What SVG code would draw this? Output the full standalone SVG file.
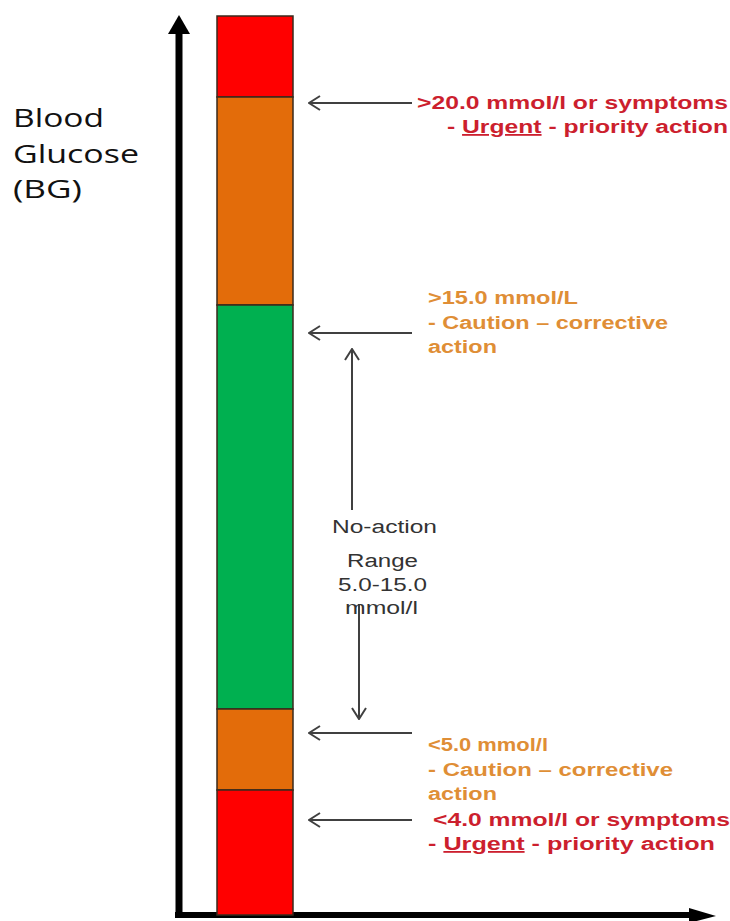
<svg xmlns="http://www.w3.org/2000/svg" width="730" height="921" viewBox="0 0 730 921">
<style>
.bar{stroke:#3a2a1c;stroke-width:1.5}
.lbl{font-family:"Liberation Sans",Arial,sans-serif;font-weight:bold;font-size:18px}
.red{fill:#cc1f2e}
.org{fill:#df8e36}
.mid{font-family:"Liberation Sans",Arial,sans-serif;font-size:18px;fill:#333}
.axis{font-family:"Open Sans","DejaVu Sans",sans-serif;font-size:26px;fill:#111}
.ptr{stroke:#404040;stroke-width:2;fill:none}
</style>
<defs>
<marker id="open" viewBox="0 0 13 16" refX="12" refY="8" markerWidth="13" markerHeight="16" markerUnits="userSpaceOnUse" orient="auto">
<path d="M1,1 L12,8 L1,15" fill="none" stroke="#404040" stroke-width="2"/>
</marker>
</defs>
<rect width="730" height="921" fill="#fff"/>
<g id="axes">
<line x1="179" y1="30" x2="179" y2="918" stroke="#000" stroke-width="7"/>
<polygon points="179,15 168,34 190,34" fill="#000"/>
<line x1="175" y1="915" x2="692" y2="915" stroke="#000" stroke-width="6"/>
<polygon points="689,908 716,916 689,923" fill="#000"/>
</g>
<g id="axis-label">
<text class="axis" x="13" y="127" textLength="91" lengthAdjust="spacingAndGlyphs">Blood</text>
<text class="axis" x="13" y="163" textLength="126" lengthAdjust="spacingAndGlyphs">Glucose</text>
<text class="axis" x="13" y="198" textLength="69" lengthAdjust="spacingAndGlyphs">(BG)</text>
</g>
<g id="bar">
<rect class="bar" x="217" y="16" width="76" height="81" fill="#ff0000"/>
<rect class="bar" x="217" y="97" width="76" height="208" fill="#e36c0a"/>
<rect class="bar" x="217" y="305" width="76" height="404" fill="#00b050"/>
<rect class="bar" x="217" y="709" width="76" height="81" fill="#e36c0a"/>
<rect class="bar" x="217" y="790" width="76" height="125" fill="#ff0000"/>
</g>
<g id="connectors">
<line class="ptr" x1="412" y1="103" x2="309" y2="103" marker-end="url(#open)"/>
<line class="ptr" x1="412" y1="333" x2="309" y2="333" marker-end="url(#open)"/>
<line class="ptr" x1="412" y1="733" x2="309" y2="733" marker-end="url(#open)"/>
<line class="ptr" x1="412" y1="820" x2="309" y2="820" marker-end="url(#open)"/>
<line class="ptr" x1="352" y1="510" x2="352" y2="349" marker-end="url(#open)"/>
<line class="ptr" x1="359" y1="604" x2="359" y2="719" marker-end="url(#open)"/>
</g>
<g id="label-urgent-high">
<text class="lbl red" x="417" y="109" textLength="311" lengthAdjust="spacingAndGlyphs">&gt;20.0 mmol/l or symptoms</text>
<text class="lbl red" x="447" y="133" textLength="281" lengthAdjust="spacingAndGlyphs">- <tspan text-decoration="underline">Urgent</tspan> - priority action</text>
</g>
<g id="label-caution-high">
<text class="lbl org" x="428" y="304" textLength="150" lengthAdjust="spacingAndGlyphs">&gt;15.0 mmol/L</text>
<text class="lbl org" x="428" y="329" textLength="240" lengthAdjust="spacingAndGlyphs">- Caution – corrective</text>
<text class="lbl org" x="428" y="353" textLength="69" lengthAdjust="spacingAndGlyphs">action</text>
</g>
<g id="label-no-action">
<text class="mid" x="332" y="533" textLength="105" lengthAdjust="spacingAndGlyphs">No-action</text>
<text class="mid" x="347" y="567" textLength="71" lengthAdjust="spacingAndGlyphs">Range</text>
<text class="mid" x="338" y="591" textLength="89" lengthAdjust="spacingAndGlyphs">5.0-15.0</text>
<text class="mid" x="345" y="614" textLength="73" lengthAdjust="spacingAndGlyphs">mmol/l</text>
</g>
<g id="label-caution-low">
<text class="lbl org" x="428" y="751" textLength="120" lengthAdjust="spacingAndGlyphs">&lt;5.0 mmol/l</text>
<text class="lbl org" x="428" y="776" textLength="245" lengthAdjust="spacingAndGlyphs">- Caution – corrective</text>
<text class="lbl org" x="428" y="800" textLength="69" lengthAdjust="spacingAndGlyphs">action</text>
</g>
<g id="label-urgent-low">
<text class="lbl red" x="433" y="826" textLength="297" lengthAdjust="spacingAndGlyphs">&lt;4.0 mmol/l or symptoms</text>
<text class="lbl red" x="428" y="850" textLength="287" lengthAdjust="spacingAndGlyphs">- <tspan text-decoration="underline">Urgent</tspan> - priority action</text>
</g>
</svg>
